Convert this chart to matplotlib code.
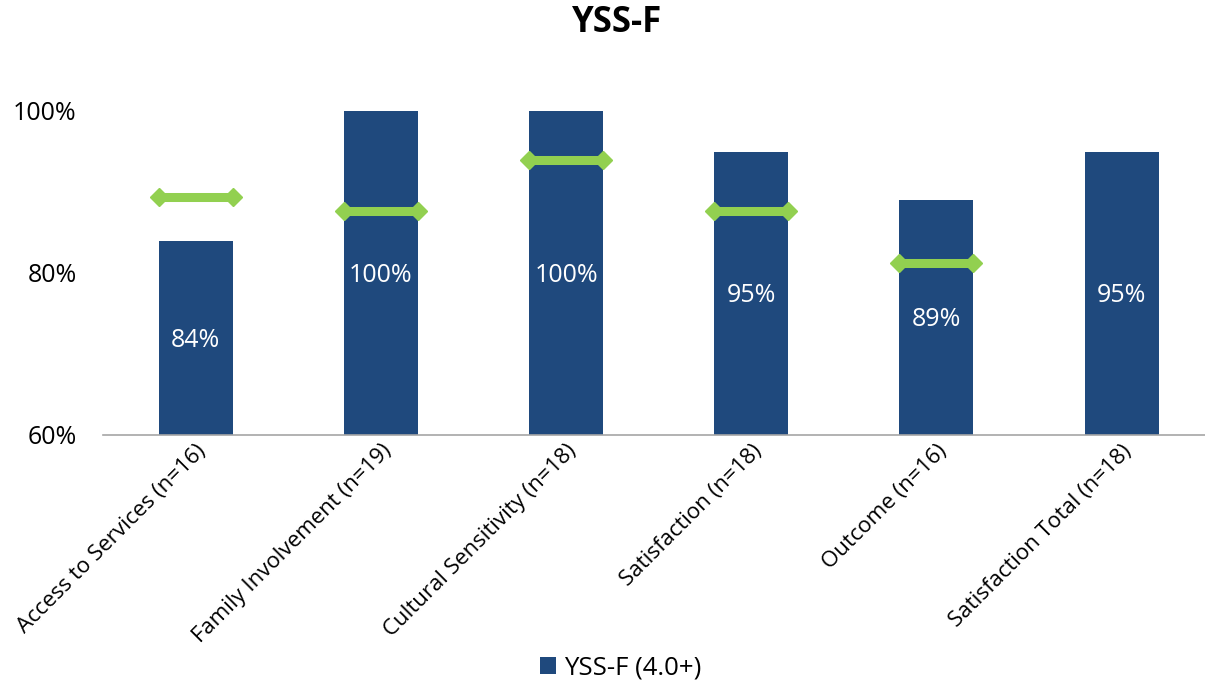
import matplotlib.pyplot as plt

plt.rcParams['font.family'] = ['Open Sans', 'DejaVu Sans']

categories = ['Access to Services (n=16)', 'Family Involvement (n=19)',
              'Cultural Sensitivity (n=18)', 'Satisfaction (n=18)',
              'Outcome (n=16)', 'Satisfaction Total (n=18)']
scores = [84, 100, 100, 95, 89, 95]
# benchmark markers (no benchmark for the total)
benchmarks = [89.4, 87.7, 94.0, 87.7, 81.2, None]

bar_color = '#1F497D'
mark_color = '#92D050'

fig = plt.figure(figsize=(12.05, 6.85), dpi=100)
ax = fig.add_axes([103 / 1205, 250 / 685, 1 - 103 / 1205, 324 / 685])

x = list(range(len(categories)))
bars = ax.bar(x, scores, width=0.4, color=bar_color, label='YSS-F (4.0+)', zorder=2)

ax.set_ylim(60, 100)
ax.set_xlim(-0.5, 5.45)

for xi, v in zip(x, scores):
    ax.text(xi, (60 + v) / 2 - 0.3, f'{v}%', color='white', fontsize=18,
            ha='center', va='center', zorder=4)

for xi, b in zip(x, benchmarks):
    if b is None:
        continue
    ax.plot([xi - 0.2, xi + 0.2], [b, b], color=mark_color, lw=6.5,
            solid_capstyle='butt', zorder=3)
    ax.plot([xi - 0.2, xi + 0.2], [b, b], linestyle='none', marker='D',
            markersize=9, color=mark_color, zorder=3)

ax.set_yticks([60, 80, 100])
ax.set_yticklabels(['60%', '80%', '100%'], fontsize=18)
ax.tick_params(axis='y', length=0, pad=19)
ax.tick_params(axis='x', length=0, pad=4)
ax.set_xticks(x)
ax.set_xticklabels(categories, rotation=45, ha='right', rotation_mode='anchor',
                   fontsize=16)

for s in ['top', 'right', 'left']:
    ax.spines[s].set_visible(False)
ax.spines['bottom'].set_color('#A6A6A6')
ax.spines['bottom'].set_linewidth(1.2)

fig.text(0.512, 0.967, 'YSS-F', fontsize=25, fontweight='bold', ha='center', va='center')

fig.legend(handles=[bars], labels=['YSS-F (4.0+)'], loc='center',
           bbox_to_anchor=(0.515, 0.025), frameon=False, fontsize=18.5,
           handlelength=0.65, handleheight=0.65, handletextpad=0.3)

fig.savefig('out.png', dpi=100)
